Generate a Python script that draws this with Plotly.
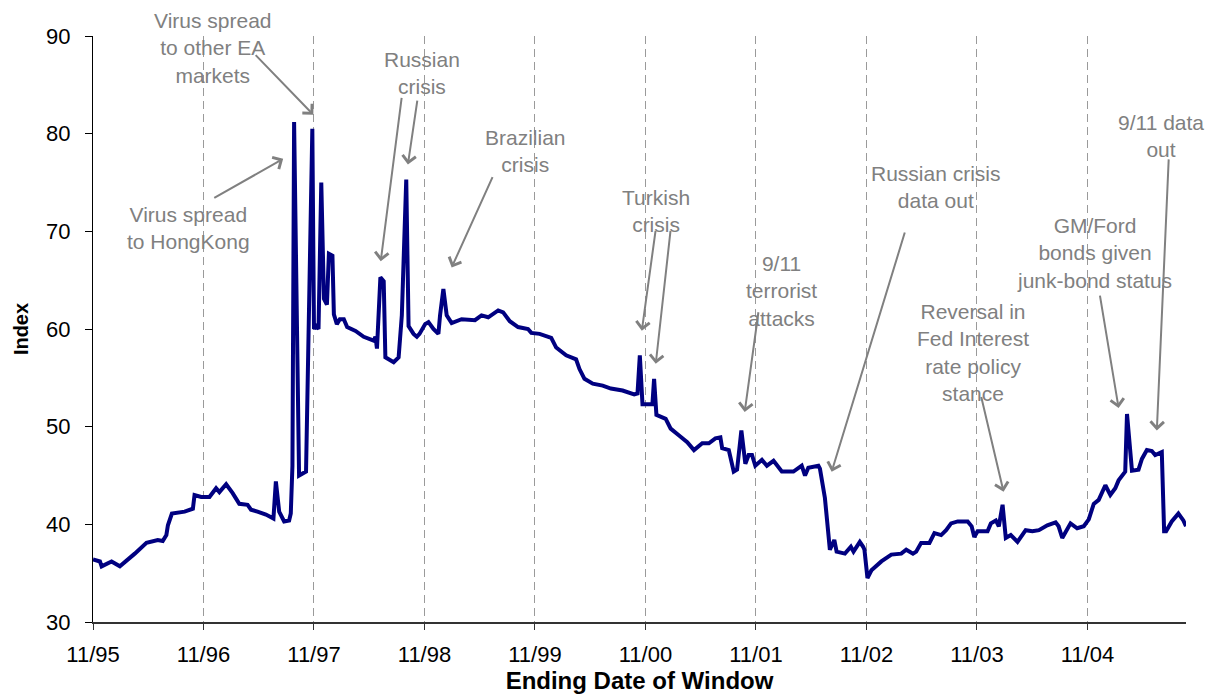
import plotly.graph_objects as go

# ---- data: years since Nov 1995 and index value ----
years_since_nov95 = [
    0.000, 0.063, 0.078, 0.168, 0.243, 0.318, 0.378, 0.484, 0.586, 0.631, 0.664, 0.678, 0.714,
    0.829, 0.904, 0.919, 0.979, 1.054, 1.114, 1.144, 1.205, 1.264, 1.324, 1.399, 1.430, 1.489,
    1.565, 1.633, 1.655, 1.685, 1.730, 1.775, 1.790, 1.805, 1.820, 1.865, 1.928, 1.985, 2.000,
    2.018, 2.041, 2.066, 2.090, 2.117, 2.135, 2.167, 2.180, 2.207, 2.234, 2.270, 2.300, 2.376,
    2.450, 2.541, 2.556, 2.570, 2.601, 2.631, 2.646, 2.721, 2.766, 2.795, 2.835, 2.856, 2.901,
    2.931, 2.955, 3.006, 3.036, 3.081, 3.126, 3.141, 3.171, 3.201, 3.246, 3.336, 3.457, 3.516,
    3.577, 3.667, 3.712, 3.772, 3.847, 3.937, 3.967, 4.042, 4.147, 4.192, 4.282, 4.372, 4.403,
    4.448, 4.523, 4.613, 4.687, 4.793, 4.898, 4.928, 4.949, 4.973, 5.063, 5.078, 5.099, 5.183,
    5.228, 5.304, 5.378, 5.439, 5.514, 5.574, 5.633, 5.678, 5.694, 5.754, 5.799, 5.829, 5.868,
    5.904, 5.934, 5.964, 5.994, 6.054, 6.099, 6.159, 6.234, 6.339, 6.414, 6.444, 6.474, 6.565,
    6.579, 6.624, 6.669, 6.709, 6.730, 6.805, 6.829, 6.859, 6.883, 6.940, 6.970, 6.982, 7.009,
    7.045, 7.135, 7.225, 7.315, 7.360, 7.421, 7.450, 7.495, 7.570, 7.615, 7.676, 7.721, 7.766,
    7.826, 7.916, 7.952, 7.976, 8.006, 8.096, 8.126, 8.171, 8.198, 8.232, 8.261, 8.306, 8.367,
    8.396, 8.441, 8.502, 8.561, 8.637, 8.712, 8.739, 8.772, 8.847, 8.907, 8.967, 9.012, 9.057,
    9.102, 9.162, 9.207, 9.252, 9.282, 9.342, 9.358, 9.403, 9.462, 9.493, 9.538, 9.583, 9.613,
    9.673, 9.694, 9.712, 9.763, 9.823, 9.868, 9.892,
]
index_values = [
    36.4, 36.2, 35.7, 36.2, 35.7, 36.4, 37.0, 38.1, 38.4, 38.3, 38.9, 39.9, 41.1,
    41.3, 41.6, 43.0, 42.8, 42.8, 43.7, 43.3, 44.1, 43.2, 42.1, 42.0, 41.5, 41.3,
    41.0, 40.6, 44.4, 41.3, 40.3, 40.4, 41.1, 46.0, 81.2, 45.0, 45.4, 80.5, 60.0,
    60.3, 60.0, 75.0, 63.1, 62.5, 67.7, 67.5, 61.5, 60.5, 61.0, 61.0, 60.2, 59.8,
    59.2, 58.8, 59.2, 58.0, 65.3, 64.9, 57.1, 56.6, 57.1, 61.4, 75.3, 60.3, 59.5,
    59.2, 59.5, 60.5, 60.7, 60.0, 59.5, 61.4, 64.1, 61.4, 60.6, 61.0, 60.9, 61.4,
    61.2, 61.9, 61.7, 60.8, 60.2, 60.0, 59.6, 59.5, 59.1, 58.1, 57.3, 56.9, 55.9,
    54.9, 54.4, 54.2, 53.9, 53.7, 53.3, 53.4, 57.3, 52.3, 52.3, 54.9, 51.2, 50.8,
    49.8, 49.1, 48.4, 47.6, 48.3, 48.3, 48.8, 48.9, 47.8, 47.6, 45.4, 45.6, 49.6,
    46.2, 47.1, 47.1, 46.0, 46.6, 46.0, 46.5, 45.4, 45.4, 46.0, 45.0, 45.8, 46.0,
    45.7, 42.7, 37.4, 38.4, 37.2, 37.0, 37.3, 37.7, 37.2, 38.2, 37.7, 37.4, 34.5,
    35.3, 36.2, 36.9, 37.0, 37.4, 37.0, 37.2, 38.1, 38.1, 39.1, 38.9, 39.4, 40.1,
    40.3, 40.3, 39.8, 38.7, 39.3, 39.3, 40.1, 40.4, 39.8, 42.0, 38.6, 38.9, 38.2,
    38.7, 39.4, 39.3, 39.4, 39.9, 40.2, 39.8, 38.6, 40.1, 39.6, 39.8, 40.5, 42.1,
    42.5, 44.0, 43.0, 43.7, 44.5, 45.4, 51.3, 45.5, 45.6, 46.7, 47.6, 47.5, 47.1,
    47.4, 39.3, 39.3, 40.3, 41.1, 40.4, 39.8,
]

tick_positions = [0, 1, 2, 3, 4, 5, 6, 7, 8, 9]
tick_labels = ["11/95", "11/96", "11/97", "11/98", "11/99",
               "11/00", "11/01", "11/02", "11/03", "11/04"]

# ---- event labels (text, centre x, centre y in data units) ----
event_texts = [
    ("Virus spread<br>to other EA<br>markets", 1.090, 88.80),
    ("Virus spread<br>to HongKong", 0.865, 70.31),
    ("Russian<br>crisis", 2.982, 86.19),
    ("Brazilian<br>crisis", 3.910, 78.19),
    ("Turkish<br>crisis", 5.099, 72.07),
    ("9/11<br>terrorist<br>attacks", 6.234, 63.91),
    ("Russian crisis<br>data out", 7.631, 74.59),
    ("Reversal in<br>Fed Interest<br>rate policy<br>stance", 7.968, 57.62),
    ("GM/Ford<br>bonds given<br>junk-bond status", 9.063, 67.76),
    ("9/11 data<br>out", 9.662, 79.80),
]

# arrows: (tail x, tail y, head x, head y) in data units
event_arrows = [
    (1.459, 88.20, 1.994, 81.94),
    (1.084, 73.34, 1.721, 77.42),
    (2.795, 83.81, 2.604, 66.94),
    (2.937, 83.54, 2.850, 76.84),
    (3.622, 75.71, 3.246, 66.30),
    (5.093, 70.20, 4.967, 59.83),
    (5.228, 70.20, 5.093, 56.43),
    (6.024, 61.87, 5.898, 51.50),
    (7.351, 70.03, 6.685, 45.38),
    (8.036, 53.19, 8.241, 43.34),
    (9.111, 63.57, 9.282, 51.91),
    (9.736, 77.52, 9.628, 49.62),
]

FONT = "Liberation Sans, Arial, sans-serif"
GRAY = "#808080"

fig = go.Figure()
fig.add_trace(go.Scatter(
    x=years_since_nov95, y=index_values, mode="lines",
    line=dict(color="#000080", width=4), showlegend=False,
))

annotations = []
for text, x, y in event_texts:
    annotations.append(dict(
        x=x, y=y, xref="x", yref="y", text=text, showarrow=False,
        font=dict(family=FONT, size=21, color=GRAY), align="center",
        xanchor="center", yanchor="middle",
    ))
for tx, ty, hx, hy in event_arrows:
    annotations.append(dict(
        x=hx, y=hy, ax=tx, ay=ty, xref="x", yref="y", axref="x", ayref="y",
        text="", showarrow=True, arrowhead=4, arrowsize=1.3, arrowwidth=2,
        arrowcolor=GRAY, standoff=0, startstandoff=0,
    ))

fig.update_layout(
    width=1207, height=690,
    margin=dict(l=80, r=29, t=28, b=74),
    paper_bgcolor="white", plot_bgcolor="white",
    font=dict(family=FONT, color="black"),
    annotations=annotations,
    xaxis=dict(
        range=[0, 9.892], tickvals=tick_positions, ticktext=tick_labels,
        showgrid=True, gridcolor="#9a9a9a", gridwidth=1, griddash="8px,5px",
        showline=True, linecolor="#333333", linewidth=1.5,
        ticks="outside", ticklen=6, tickcolor="#333333",
        tickfont=dict(size=22, family=FONT), ticklabelstandoff=6,
        zeroline=False,
        title=dict(text="<b>Ending Date of Window</b>", font=dict(size=24, family=FONT), standoff=2),
    ),
    yaxis=dict(
        range=[30, 90], dtick=10, showgrid=False, zeroline=False,
        showline=True, linecolor="black", linewidth=1,
        ticks="outside", ticklen=7, tickcolor="black",
        tickfont=dict(size=22, family=FONT), ticklabelstandoff=10,
        title=dict(text="<b>Index</b>", font=dict(size=20, family=FONT), standoff=12),
    ),
)

fig.write_html("out.html")
